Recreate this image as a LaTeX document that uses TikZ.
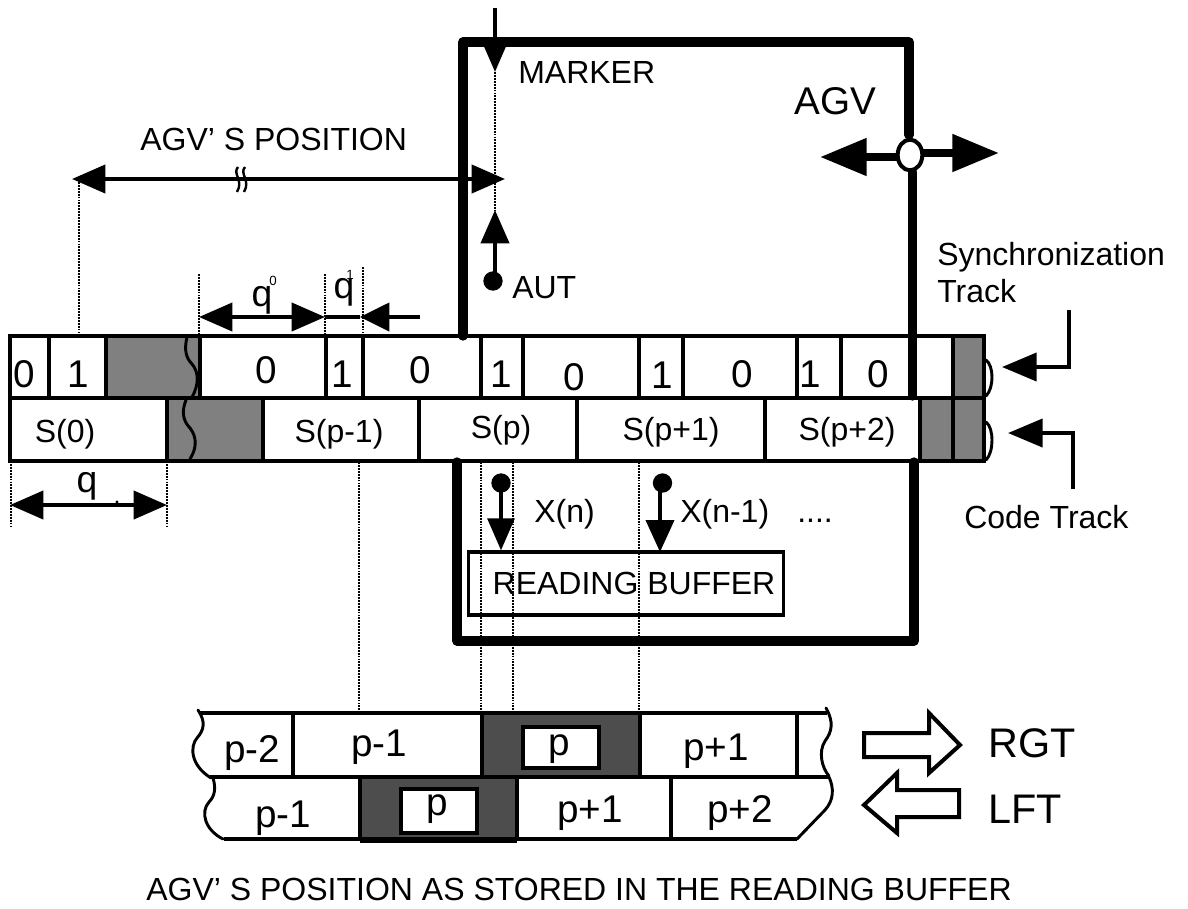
\documentclass[tikz,border=0pt]{standalone}
\usepackage{fontspec}
\setmainfont{Liberation Sans}
\usetikzlibrary{arrows.meta,shapes.geometric}
\definecolor{midgray}{HTML}{808080}
\definecolor{darkblock}{HTML}{4D4D4D}
\newcommand{\fpx}[1]{\fontsize{#1}{#1}\selectfont}
\tikzset{
  track/.style={draw=black,line width=2.7pt,line join=miter},
  divider/.style={draw=black,line width=2.7pt},
  frame/.style={draw=black,line width=7pt,line cap=round,line join=round},
  dots/.style={draw=black,line width=2.1pt,dash pattern=on 1.4pt off 0.8pt},
  wavy/.style={draw=black,line width=2.2pt,line cap=round},
  shaft/.style={draw=black,line width=3pt},
  lead/.style={shaft,-{Triangle[length=25pt,width=21pt]}},
  leadboth/.style={shaft,{Triangle[length=25pt,width=21pt]}-{Triangle[length=25pt,width=21pt]}},
  pin/.style={circle,fill=black,inner sep=0pt,minimum size=14.5pt},
  lbl/.style={inner sep=0pt,anchor=base west,font=\fpx{24}},
  ctr/.style={inner sep=0pt,anchor=base,font=\fpx{24}},
  digit/.style={inner sep=0pt,anchor=base,font=\fpx{29}},
  cell/.style={inner sep=0pt,anchor=base,font=\fpx{29}},
  hollow/.style={draw=black,fill=white,line width=3pt,line join=miter}
}
\begin{document}
\begin{tikzpicture}[x=0.75pt,y=-0.75pt]
\useasboundingbox (0,0) rectangle (1188,908);
% gray regions
\fill[midgray] (106,336) rectangle (200,398);
\fill[midgray] (167,398) rectangle (263,461);
\fill[midgray] (953,336) rectangle (984,398);
\fill[midgray] (920,398) rectangle (984,461);
% track outlines
\draw[track] (10,461) -- (10,336) -- (984,336) -- (984,461) -- cycle;
\draw[divider] (10,398) -- (984,398);
\foreach \x in {49,106,200,326,363,481,523,639,683,797,841,953}
  \draw[divider] (\x,336) -- (\x,398);
\foreach \x in {167,263,419,577,765,920,953}
  \draw[divider] (\x,398) -- (\x,461);
\draw[line width=3.6pt] (167,461) -- (263,461);
% wavy breaks
\draw[wavy] (187,337) .. controls (184,350) and (186,358) .. (192,364) .. controls (199,372) and (199,385) .. (192,397);
\draw[wavy] (186,400) .. controls (182,410) and (182,420) .. (190,428) .. controls (197,437) and (197,448) .. (190,459);
\draw[wavy] (986,360) .. controls (994,366) and (994,388) .. (986,396);
\draw[wavy] (986,422) .. controls (994,428) and (994,452) .. (986,460);
% AGV frame
\coordinate (ftl) at (463,42);
\coordinate (ftr) at (909,42);
\draw[frame] (463,336) -- (ftl) -- (ftr) -- (909,135);
\draw[frame] (912.5,172) -- (912.5,396);
\draw[frame] (914,462) -- (914,641) -- (457,641) -- (457,462);
% AGV axle
\coordinate (axL) at (820,157);
\coordinate (axR) at (999,153);
\draw[line width=6pt,-{Triangle[length=35pt,width=27pt]}] (898,157) -- (axL);
\draw[line width=6pt,-{Triangle[length=35pt,width=27pt]}] (921,153) -- (axR);
\node[draw=black,fill=white,line width=3pt,ellipse,inner sep=0pt,minimum width=18.5pt,minimum height=23pt] (axle) at (910,155) {};
% marker
\coordinate (mkTop) at (495,8);
\coordinate (mkTip) at (495,72);
\draw[shaft,-{Triangle[length=23pt,width=19pt]}] (mkTop) -- (mkTip);
\coordinate (autTip) at (495,210);
\draw[dots] (mkTip) -- (autTip);
\node[pin] (autdot) at (493,281) {};
\draw[lead] (495,281) -- (autTip);
% position
\coordinate (posL) at (72,179);
\coordinate (posR) at (505,179);
\draw[leadboth] (posL) -- (posR);
\draw[dots] (79,179) -- (79,335);
\draw[line width=1.8pt] (238,167) .. controls (232,174) and (244,180) .. (237,192);
\draw[line width=1.8pt] (245,167) .. controls (239,174) and (251,180) .. (244,192);
% q0 q1
\coordinate (qa) at (199,317);
\coordinate (qb) at (325,317);
\coordinate (qc) at (360,317);
\coordinate (qd) at (420,317);
\draw[dots] (199,274) -- (199,335);
\draw[dots] (325,274) -- (325,335);
\draw[dots] (363,267) -- (363,332);
\draw[leadboth] (qa) -- (qb);
\draw[shaft,-{Triangle[length=22pt,width=21pt]}] (qd) -- (qc);
\draw[shaft] (qb) -- (qc);
% q
\coordinate (rl) at (10,505);
\coordinate (rr) at (167,505);
\draw[dots] (11,461) -- (11,527);
\draw[dots] (167,461) -- (167,527);
\draw[leadboth] (rl) -- (rr);
\fill (117,502) circle (1.7);
% long dotted
\draw[dots] (359,462) -- (359,711);
\draw[dots] (481,462) -- (481,711);
\draw[dots] (513,462) -- (513,711);
\draw[dots] (639,462) -- (639,711);
% reading buffer
\node[draw=black,line width=2.7pt,minimum width=236pt,minimum height=47pt,inner sep=0pt] (buf) at (626,583.5) {};
\node[pin] (xa) at (501,483) {};
\node[pin] (xb) at (662.5,483) {};
\draw[shaft,-{Triangle[length=24pt,width=20pt]}] (xa.center) -- (buf.north -| xa);
\draw[shaft,-{Triangle[length=24pt,width=21pt]}] (660,483) -- (660,552);
% lower strips: dark blocks
\fill[darkblock] (482,713) rectangle (640,777);
\fill[darkblock] (360,777) rectangle (517,839);
\node[hollow,minimum width=57pt,minimum height=30.5pt,inner sep=0pt] (pa) at (561,747.5) {};
\node[hollow,minimum width=57pt,minimum height=33pt,inner sep=0pt] (pb) at (439,810.5) {};
\draw[track] (200,713) -- (827,713);
\draw[track] (210,777) -- (830,777);
\draw[track] (224,839) -- (797,839);
\draw[line width=4pt] (360,840) -- (517,840);
\draw[divider] (293,713) -- (293,777);
\draw[divider] (482,713) -- (482,777);
\draw[divider] (640,713) -- (640,777);
\draw[divider] (797,713) -- (797,775);
\draw[divider] (360,777) -- (360,839);
\draw[divider] (517,777) -- (517,839);
\draw[divider] (671,777) -- (671,839);
\draw[wavy] (198,710) .. controls (206,722) and (204,730) .. (197,738) .. controls (190,746) and (190,765) .. (211,778);
\draw[wavy] (213,778) .. controls (216,788) and (215,796) .. (209,802) .. controls (200,812) and (205,830) .. (223,839);
\draw[wavy] (826,708) .. controls (834,722) and (832,732) .. (825,741) .. controls (818,752) and (822,768) .. (829,776);
\draw[wavy] (829,777) .. controls (834,788) and (834,800) .. (825,810) -- (797,839);
% block arrows
\draw[hollow,line join=miter] (864,733) -- (929,733) -- (929,713) -- (960,745) -- (929,773) -- (929,757) -- (864,757) -- cycle;
\draw[hollow,line join=miter] (959,790) -- (897,790) -- (897,773) -- (864,805) -- (897,833) -- (897,817) -- (959,817) -- cycle;
% track pointers
\coordinate (syA) at (1069,310);
\coordinate (syB) at (1069,367);
\coordinate (syC) at (1002,367);
\draw[shaft,-{Triangle[length=26pt,width=21pt]}] (syA) -- (syB) -- (syC);
\coordinate (coA) at (1073,489);
\coordinate (coB) at (1073,433);
\coordinate (coC) at (1008,433);
\draw[shaft,-{Triangle[length=26pt,width=21pt]}] (coA) -- (coB) -- (coC);
% labels
\node[lbl] (tMarker) at (518,83) {MARKER};
\node[lbl,font=\fpx{29}] (tAgv) at (794,114) {AGV};
\node[lbl] (tAut) at (512,298) {AUT};
\node[lbl] (tPos) at (140,150) {AGV' S POSITION};
\node[lbl] (tSync) at (937,265) {Synchronization};
\node[lbl] (tTrack) at (937,302) {Track};
\node[lbl] (tCode) at (964,528) {Code Track};
\node[ctr,font=\fpx{28}] (tq0) at (262,306) {q};
\node[ctr,font=\fpx{10}] (tq0s) at (273,285) {0};
\node[ctr,font=\fpx{28}] (tq1) at (344,298) {q};
\node[ctr,font=\fpx{10}] (tq1s) at (350,279) {1};
\node[ctr,font=\fpx{28}] (tq) at (87,492) {q};
\node[digit] at (24,387) (d1) {0};
\node[digit] at (78,387) (d2) {1};
\node[digit] at (266,383) (d3) {0};
\node[digit] at (342,387) (d4) {1};
\node[digit] at (420,383) (d5) {0};
\node[digit] at (501,387) (d6) {1};
\node[digit] at (574,390) (d7) {0};
\node[digit] at (662,388) (d8) {1};
\node[digit] at (742,387) (d9) {0};
\node[digit] at (810,387) (d10) {1};
\node[digit] at (878,387) (d11) {0};
\node[ctr] at (65,442) (s0) {S(0)};
\node[ctr] at (339,442) (s1) {S(p-1)};
\node[ctr] at (501,438) (s2) {S(p)};
\node[ctr] at (671,440) (s3) {S(p+1)};
\node[ctr] at (847,440) (s4) {S(p+2)};
\node[lbl] at (534,522) (tXn) {X(n)};
\node[lbl] at (680,522) (tXm) {X(n-1)};
\node[lbl] at (797,522) (tDots) {....};
\node[ctr] at (634,594) (tBuf) {READING BUFFER};
\node[cell] at (252,762) (c1) {p-2};
\node[cell] at (379,756) (c2) {p-1};
\node[cell] at (559,755) (c3) {p};
\node[cell] at (716,760) (c4) {p+1};
\node[cell] at (283,827) (c5) {p-1};
\node[cell] at (437,815) (c6) {p};
\node[cell] at (590,822) (c7) {p+1};
\node[cell] at (740,822) (c8) {p+2};
\node[lbl,font=\fpx{31}] at (988,757) (tR) {RGT};
\node[lbl,font=\fpx{31}] at (988,823) (tL) {LFT};
\node[ctr] at (579,900) (tBottom) {AGV' S POSITION AS STORED IN THE READING BUFFER};
\end{tikzpicture}
\end{document}
